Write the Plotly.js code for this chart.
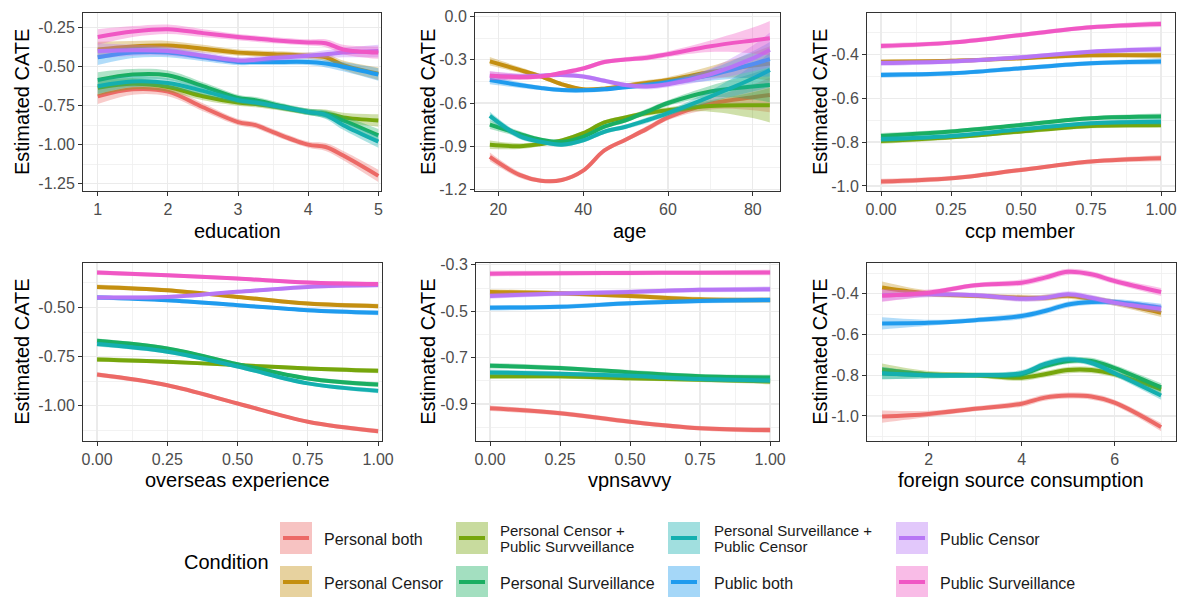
<!DOCTYPE html>
<html><head><meta charset="utf-8">
<script src="https://cdn.plot.ly/plotly-3.0.1.min.js"></script>
<style>html,body{margin:0;padding:0;background:#fff}#chart{width:1187px;height:597px}</style>
</head><body><div id="chart"></div>
<script>
// ---------- categories ----------
const conditions = ["Personal both", "Personal Censor", "Personal Censor + Public Survveillance",
  "Personal Surveillance", "Personal Surveillance + Public Censor", "Public both", "Public Censor", "Public Surveillance"];
const legendLabels = ["Personal both", "Personal Censor", "Personal Censor +\nPublic Survveillance",
  "Personal Surveillance", "Personal Surveillance +\nPublic Censor", "Public both", "Public Censor", "Public Surveillance"];
const colors = ["#EC6966", "#C48F10", "#76A60C", "#1AAE62", "#14AFAF", "#1F9BEE", "#B776F5", "#F057C4"];
const panelTitles = ["education", "age", "ccp member", "overseas experience", "vpnsavvy", "foreign source consumption"];
const yTitle = "Estimated CATE";

// ---------- education ----------
const educationX = [1, 1.5, 2, 2.5, 3, 3.25, 3.5, 4, 4.25, 4.5, 5];
const educationPersonalBoth = [-0.69, -0.645, -0.66, -0.76, -0.855, -0.875, -0.92, -1.0, -1.015, -1.07, -1.2];
const educationPersonalCensor = [-0.39, -0.37, -0.365, -0.385, -0.41, -0.415, -0.42, -0.43, -0.44, -0.49, -0.545];
const educationPCensorPSurv = [-0.635, -0.61, -0.63, -0.69, -0.73, -0.74, -0.755, -0.79, -0.80, -0.825, -0.845];
const educationPersonalSurv = [-0.585, -0.55, -0.555, -0.625, -0.70, -0.715, -0.74, -0.79, -0.805, -0.845, -0.94];
const educationPSurvPCensor = [-0.625, -0.595, -0.605, -0.655, -0.715, -0.73, -0.75, -0.79, -0.81, -0.875, -0.98];
const educationPublicBoth = [-0.44, -0.41, -0.41, -0.44, -0.47, -0.47, -0.47, -0.47, -0.48, -0.50, -0.55];
const educationPublicCensor = [-0.40, -0.395, -0.40, -0.43, -0.46, -0.455, -0.445, -0.43, -0.42, -0.41, -0.40];
const educationPublicSurv = [-0.31, -0.275, -0.26, -0.285, -0.31, -0.32, -0.33, -0.345, -0.35, -0.39, -0.41];
const educationBand = [0.05, 0.035, 0.03, 0.025, 0.02, 0.02, 0.02, 0.02, 0.025, 0.03, 0.04];

// ---------- age ----------
const ageX = [18, 25, 30, 35, 40, 45, 50, 55, 60, 70, 80, 84];
const agePersonalBoth = [-0.975, -1.10, -1.14, -1.135, -1.07, -0.93, -0.855, -0.78, -0.70, -0.605, -0.56, -0.545];
const agePersonalCensor = [-0.31, -0.37, -0.415, -0.47, -0.505, -0.50, -0.48, -0.46, -0.44, -0.385, -0.34, -0.325];
const agePCensorPSurv = [-0.89, -0.90, -0.885, -0.86, -0.81, -0.735, -0.70, -0.67, -0.65, -0.62, -0.615, -0.615];
const agePersonalSurv = [-0.75, -0.815, -0.855, -0.87, -0.835, -0.765, -0.72, -0.66, -0.60, -0.52, -0.485, -0.475];
const agePSurvPCensor = [-0.69, -0.83, -0.87, -0.89, -0.86, -0.80, -0.765, -0.72, -0.67, -0.555, -0.43, -0.37];
const agePublicBoth = [-0.44, -0.475, -0.495, -0.51, -0.512, -0.505, -0.49, -0.475, -0.455, -0.405, -0.33, -0.295];
const agePublicCensor = [-0.41, -0.415, -0.41, -0.405, -0.415, -0.445, -0.475, -0.485, -0.47, -0.40, -0.29, -0.23];
const agePublicSurv = [-0.41, -0.42, -0.415, -0.39, -0.36, -0.315, -0.297, -0.285, -0.26, -0.205, -0.165, -0.15];
const ageBand = [0.03, 0.02, 0.015, 0.015, 0.015, 0.015, 0.015, 0.02, 0.02, 0.04, 0.09, 0.12];

// ---------- ccp member ----------
const ccpX = [0, 0.25, 0.5, 0.75, 1];
const ccpPersonalBoth = [-0.98, -0.965, -0.927, -0.889, -0.874];
const ccpPersonalCensor = [-0.435, -0.43, -0.418, -0.405, -0.405];
const ccpPCensorPSurv = [-0.795, -0.778, -0.752, -0.727, -0.722];
const ccpPersonalSurv = [-0.772, -0.752, -0.722, -0.692, -0.684];
const ccpPSurvPCensor = [-0.787, -0.772, -0.742, -0.714, -0.707];
const ccpPublicBoth = [-0.494, -0.487, -0.464, -0.441, -0.433];
const ccpPublicCensor = [-0.44, -0.433, -0.414, -0.388, -0.377];
const ccpPublicSurv = [-0.362, -0.347, -0.312, -0.277, -0.262];
const ccpBand = [0.013, 0.01, 0.01, 0.01, 0.014];

// ---------- overseas experience ----------
const overseasX = [0, 0.25, 0.5, 0.75, 1];
const overseasPersonalBoth = [-0.841, -0.895, -0.988, -1.081, -1.129];
const overseasPersonalCensor = [-0.395, -0.412, -0.446, -0.48, -0.493];
const overseasPCensorPSurv = [-0.764, -0.776, -0.793, -0.81, -0.822];
const overseasPersonalSurv = [-0.669, -0.708, -0.788, -0.861, -0.892];
const overseasPSurvPCensor = [-0.686, -0.725, -0.80, -0.886, -0.924];
const overseasPublicBoth = [-0.449, -0.463, -0.488, -0.514, -0.527];
const overseasPublicCensor = [-0.449, -0.446, -0.42, -0.395, -0.386];
const overseasPublicSurv = [-0.322, -0.336, -0.353, -0.373, -0.381];
const overseasBand = [0.012, 0.01, 0.01, 0.01, 0.012];

// ---------- vpnsavvy ----------
const vpnX = [0, 0.25, 0.5, 0.75, 1];
const vpnPersonalBoth = [-0.919, -0.94, -0.977, -1.005, -1.013];
const vpnPersonalCensor = [-0.417, -0.423, -0.434, -0.449, -0.452];
const vpnPCensorPSurv = [-0.781, -0.781, -0.789, -0.796, -0.803];
const vpnPersonalSurv = [-0.735, -0.745, -0.764, -0.781, -0.786];
const vpnPSurvPCensor = [-0.764, -0.77, -0.779, -0.793, -0.799];
const vpnPublicBoth = [-0.485, -0.481, -0.466, -0.456, -0.452];
const vpnPublicCensor = [-0.434, -0.424, -0.417, -0.408, -0.405];
const vpnPublicSurv = [-0.338, -0.336, -0.335, -0.334, -0.333];
const vpnBand = [0.012, 0.01, 0.01, 0.01, 0.012];

// ---------- foreign source consumption ----------
const foreignX = [1, 2, 3, 4, 4.5, 5, 5.5, 6, 7];
const foreignPersonalBoth = [-1.003, -0.99, -0.965, -0.94, -0.91, -0.90, -0.905, -0.935, -1.055];
const foreignPersonalCensor = [-0.37, -0.40, -0.41, -0.42, -0.42, -0.41, -0.425, -0.444, -0.494];
const foreignPCensorPSurv = [-0.773, -0.795, -0.80, -0.812, -0.795, -0.775, -0.775, -0.795, -0.87];
const foreignPersonalSurv = [-0.79, -0.80, -0.80, -0.795, -0.755, -0.73, -0.73, -0.765, -0.86];
const foreignPSurvPCensor = [-0.79, -0.80, -0.80, -0.79, -0.745, -0.722, -0.74, -0.79, -0.90];
const foreignPublicBoth = [-0.546, -0.543, -0.53, -0.51, -0.485, -0.453, -0.441, -0.441, -0.469];
const foreignPublicCensor = [-0.408, -0.403, -0.408, -0.425, -0.42, -0.403, -0.42, -0.444, -0.474];
const foreignPublicSurv = [-0.41, -0.395, -0.359, -0.346, -0.321, -0.293, -0.305, -0.338, -0.392];
const foreignBand = [0.03, 0.015, 0.012, 0.015, 0.015, 0.015, 0.015, 0.015, 0.02];

// ---------- tick labels ----------
const educationXTicks = [1, 2, 3, 4, 5];
const ageXTicks = [20, 40, 60, 80];
const unitXTicks = [0, 0.25, 0.5, 0.75, 1];
const unitXTickText = ["0.00", "0.25", "0.50", "0.75", "1.00"];
const foreignXTicks = [2, 4, 6];
const educationYTicks = [-1.25, -1.0, -0.75, -0.5, -0.25];
const educationYTickText = ["-1.25", "-1.00", "-0.75", "-0.50", "-0.25"];
const ageYTicks = [-1.2, -0.9, -0.6, -0.3, 0];
const ageYTickText = ["-1.2", "-0.9", "-0.6", "-0.3", "0.0"];
const ccpYTicks = [-1.0, -0.8, -0.6, -0.4];
const ccpYTickText = ["-1.0", "-0.8", "-0.6", "-0.4"];
const overseasYTicks = [-1.0, -0.75, -0.5];
const overseasYTickText = ["-1.00", "-0.75", "-0.50"];
const vpnYTicks = [-0.9, -0.7, -0.5, -0.3];
const vpnYTickText = ["-0.9", "-0.7", "-0.5", "-0.3"];
const foreignYTicks = [-1.0, -0.8, -0.6, -0.4];
const foreignYTickText = ["-1.0", "-0.8", "-0.6", "-0.4"];

// ---------- build ----------
const W = 1187, H = 597;
const fx = p => p / W, fy = p => 1 - p / H;
const FONT = "Liberation Sans, Arial, Helvetica, sans-serif";
function rgba(hex, a) {
  const n = parseInt(hex.slice(1), 16);
  return `rgba(${(n >> 16) & 255},${(n >> 8) & 255},${n & 255},${a})`;
}

const panels = [
  { x: educationX, band: educationBand, series: [educationPersonalBoth, educationPersonalCensor, educationPCensorPSurv, educationPersonalSurv, educationPSurvPCensor, educationPublicBoth, educationPublicCensor, educationPublicSurv],
    box: [83, 381, 13, 191], xr: [0.79, 5.038], yr: [-1.297, -0.156],
    xt: educationXTicks, xtt: educationXTicks.map(String), xm: [1.5, 2.5, 3.5, 4.5],
    yt: educationYTicks, ytt: educationYTickText, ym: [-1.125, -0.875, -0.625, -0.375], tx: 237, ty: 231, yx: 22 },
  { x: ageX, band: ageBand, series: [agePersonalBoth, agePersonalCensor, agePCensorPSurv, agePersonalSurv, agePSurvPCensor, agePublicBoth, agePublicCensor, agePublicSurv],
    box: [475, 780, 13, 191], xr: [14.5, 86.4], yr: [-1.212, 0.026],
    xt: ageXTicks, xtt: ageXTicks.map(String), xm: [30, 50, 70],
    yt: ageYTicks, ytt: ageYTickText, ym: [-1.05, -0.75, -0.45, -0.15], tx: 629, ty: 231, yx: 428 },
  { x: ccpX, band: ccpBand, series: [ccpPersonalBoth, ccpPersonalCensor, ccpPCensorPSurv, ccpPersonalSurv, ccpPSurvPCensor, ccpPublicBoth, ccpPublicCensor, ccpPublicSurv],
    box: [867, 1175, 13, 191], xr: [-0.05, 1.05], yr: [-1.023, -0.212],
    xt: unitXTicks, xtt: unitXTickText, xm: [0.125, 0.375, 0.625, 0.875],
    yt: ccpYTicks, ytt: ccpYTickText, ym: [-0.9, -0.7, -0.5, -0.3], tx: 1020, ty: 231, yx: 820 },
  { x: overseasX, band: overseasBand, series: [overseasPersonalBoth, overseasPersonalCensor, overseasPCensorPSurv, overseasPersonalSurv, overseasPSurvPCensor, overseasPublicBoth, overseasPublicCensor, overseasPublicSurv],
    box: [83, 381.5, 262.5, 441], xr: [-0.05, 1.012], yr: [-1.179, -0.271],
    xt: unitXTicks, xtt: unitXTickText, xm: [0.125, 0.375, 0.625, 0.875],
    yt: overseasYTicks, ytt: overseasYTickText, ym: [-1.125, -0.875, -0.625, -0.375], tx: 237, ty: 480, yx: 22 },
  { x: vpnX, band: vpnBand, series: [vpnPersonalBoth, vpnPersonalCensor, vpnPCensorPSurv, vpnPersonalSurv, vpnPSurvPCensor, vpnPublicBoth, vpnPublicCensor, vpnPublicSurv],
    box: [476, 778.5, 262.5, 441], xr: [-0.05, 1.03], yr: [-1.06, -0.29],
    xt: unitXTicks, xtt: unitXTickText, xm: [0.125, 0.375, 0.625, 0.875],
    yt: vpnYTicks, ytt: vpnYTickText, ym: [-1.0, -0.8, -0.6, -0.4], tx: 629, ty: 480, yx: 428 },
  { x: foreignX, band: foreignBand, series: [foreignPersonalBoth, foreignPersonalCensor, foreignPCensorPSurv, foreignPersonalSurv, foreignPSurvPCensor, foreignPublicBoth, foreignPublicCensor, foreignPublicSurv],
    box: [867, 1176, 262.5, 441], xr: [0.675, 7.32], yr: [-1.123, -0.247],
    xt: foreignXTicks, xtt: foreignXTicks.map(String), xm: [1, 3, 5, 7],
    yt: foreignYTicks, ytt: foreignYTickText, ym: [-1.1, -0.9, -0.7, -0.5, -0.3], tx: 1021, ty: 480, yx: 820 }
];

const traces = [];
const layout = {
  width: W, height: H, margin: { l: 0, r: 0, t: 0, b: 0 }, showlegend: false,
  paper_bgcolor: "#fff", plot_bgcolor: "#fff", font: { family: FONT },
  annotations: [], shapes: []
};

panels.forEach((p, i) => {
  const sfx = i === 0 ? "" : String(i + 1);
  const xa = "x" + sfx, ya = "y" + sfx;
  p.series.forEach((ys, j) => {
    const lower = ys.map((v, k) => v - p.band[k]);
    const upper = ys.map((v, k) => v + p.band[k]);
    traces.push({ x: p.x, y: lower, xaxis: xa, yaxis: ya, mode: "lines", line: { width: 0, shape: "spline" }, hoverinfo: "skip", showlegend: false });
    traces.push({ x: p.x, y: upper, xaxis: xa, yaxis: ya, mode: "lines", line: { width: 0, shape: "spline" }, fill: "tonexty", fillcolor: rgba(colors[j], 0.35), hoverinfo: "skip", showlegend: false });
    traces.push({ x: p.x, y: ys, xaxis: xa, yaxis: ya, mode: "lines", name: conditions[j], line: { color: colors[j], width: 4, shape: "spline" }, showlegend: false });
  });
  const common = {
    ticks: "outside", ticklen: 4, tickwidth: 1, tickcolor: "#333333",
    showline: true, mirror: true, linecolor: "#333333", linewidth: 1,
    showgrid: true, gridcolor: "#EBEBEB", gridwidth: 1.2, zeroline: false,
    tickfont: { family: FONT, size: 16, color: "#4D4D4D" }, fixedrange: true, tickmode: "array"
  };
  layout["xaxis" + sfx] = Object.assign({}, common, {
    domain: [fx(p.box[0]), fx(p.box[1])], range: p.xr, anchor: ya,
    tickvals: p.xt, ticktext: p.xtt,
    minor: { tickmode: "array", tickvals: p.xm, showgrid: true, gridcolor: "#EFEFEF", gridwidth: 0.8, ticks: "" }
  });
  layout["yaxis" + sfx] = Object.assign({}, common, {
    domain: [fy(p.box[3]), fy(p.box[2])], range: p.yr, anchor: xa,
    tickvals: p.yt, ticktext: p.ytt,
    minor: { tickmode: "array", tickvals: p.ym, showgrid: true, gridcolor: "#EFEFEF", gridwidth: 0.8, ticks: "" }
  });
  layout.annotations.push({ xref: "paper", yref: "paper", x: fx(p.tx), y: fy(p.ty), text: panelTitles[i], showarrow: false,
    xanchor: "center", yanchor: "middle", font: { family: FONT, size: 20, color: "#000" } });
  layout.annotations.push({ xref: "paper", yref: "paper", x: fx(p.yx), y: fy((p.box[2] + p.box[3]) / 2), text: yTitle, showarrow: false,
    textangle: -90, xanchor: "center", yanchor: "middle", font: { family: FONT, size: 20, color: "#000" } });
});

// ---------- legend (drawn manually, column-major as in ggplot) ----------
const keyX = [280, 456, 668, 896];
const textX = [322, 498, 712, 938];
const keyY = [[522, 554], [566, 598]];
layout.annotations.push({ xref: "paper", yref: "paper", x: fx(182), y: fy(562), text: "Condition", showarrow: false,
  xanchor: "left", yanchor: "middle", font: { family: FONT, size: 20, color: "#000" } });
conditions.forEach((c, j) => {
  const col = Math.floor(j / 2), row = j % 2;
  const x0 = keyX[col], x1 = keyX[col] + 32, y0 = keyY[row][0], y1 = keyY[row][1];
  const cy = (y0 + y1) / 2;
  layout.shapes.push({ type: "rect", xref: "paper", yref: "paper", x0: fx(x0), x1: fx(x1), y0: fy(y1), y1: fy(y0),
    fillcolor: rgba(colors[j], 0.4), line: { width: 0 } });
  layout.shapes.push({ type: "line", xref: "paper", yref: "paper", x0: fx(x0 + 3), x1: fx(x1 - 3), y0: fy(cy), y1: fy(cy),
    line: { color: colors[j], width: 4 } });
  const lines = legendLabels[j].split("\n");
  if (lines.length === 1) {
    layout.annotations.push({ xref: "paper", yref: "paper", x: fx(textX[col]), y: fy(cy + 1), text: lines[0], showarrow: false,
      xanchor: "left", yanchor: "middle", font: { family: FONT, size: 16, color: "#1A1A1A" } });
  } else {
    lines.forEach((t, k) => {
      layout.annotations.push({ xref: "paper", yref: "paper", x: fx(textX[col]), y: fy(cy - 8 + k * 16), text: t, showarrow: false,
        xanchor: "left", yanchor: "middle", font: { family: FONT, size: 15, color: "#1A1A1A" } });
    });
  }
});

Plotly.newPlot("chart", traces, layout, { staticPlot: true, displayModeBar: false });
</script></body></html>
